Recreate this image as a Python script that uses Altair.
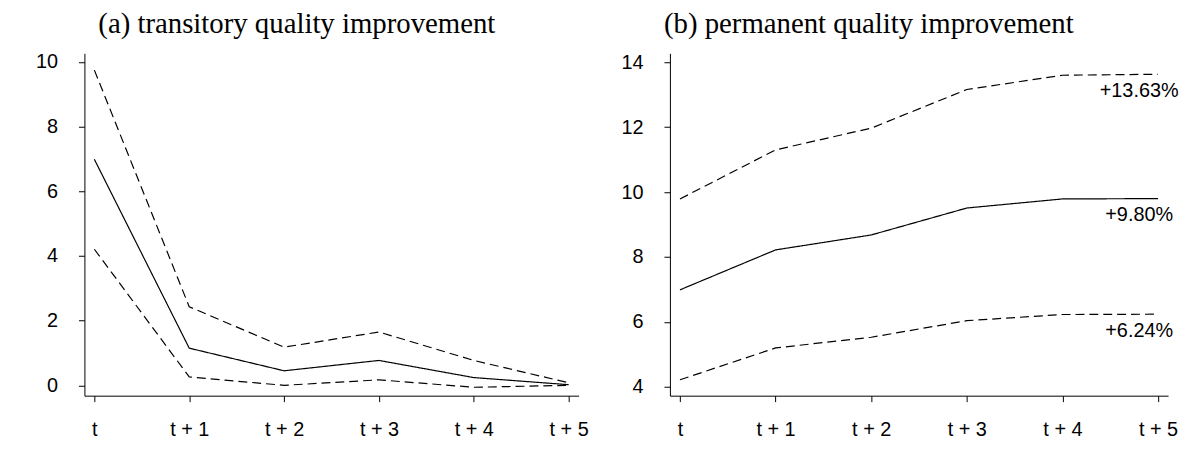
import json
import altair as alt
import pandas as pd

periods = ["t", "t + 1", "t + 2", "t + 3", "t + 4", "t + 5"]
steps = [0, 1, 2, 3, 4, 5]

a_mean = [6.99, 1.15, 0.45, 0.77, 0.24, 0.02]
a_upper = [9.75, 2.43, 1.18, 1.65, 0.77, 0.08]
a_lower = [4.21, 0.26, 0.00, 0.17, -0.06, 0.00]

b_mean = [6.99, 8.22, 8.68, 9.51, 9.79, 9.80]
b_upper = [9.79, 11.30, 11.97, 13.16, 13.60, 13.63]
b_lower = [4.22, 5.20, 5.53, 6.04, 6.23, 6.24]

b_labels = ["+13.63%", "+9.80%", "+6.24%"]
b_label_values = [13.63, 9.80, 6.24]

a_yticks = [0, 2, 4, 6, 8, 10]
b_yticks = [4, 6, 8, 10, 12, 14]

title_a = "(a) transitory quality improvement"
title_b = "(b) permanent quality improvement"


def long_df(mean, upper, lower):
    rows = []
    for name, vals in (("mean", mean), ("upper", upper), ("lower", lower)):
        for s, v in zip(steps, vals):
            rows.append({"step": s, "value": v, "series": name})
    return pd.DataFrame(rows)


label_expr = json.dumps(periods) + "[datum.value]"
FONT = "Liberation Sans"


def panel(df, ydomain, yticks, title, dx, width, yextent, text_df=None):
    x = alt.X(
        "step:Q",
        scale=alt.Scale(domain=[-0.105, 5.105], nice=False, zero=False),
        axis=alt.Axis(values=steps, labelExpr=label_expr, title=None, grid=False,
                      tickSize=6, labelPadding=18, domainColor="black", tickColor="black",
                      labelFont=FONT, labelFontSize=20, labelColor="black"),
    )
    y = alt.Y(
        "value:Q",
        scale=alt.Scale(domain=ydomain, nice=False, zero=False),
        axis=alt.Axis(values=yticks, title=None, grid=False, tickSize=6, labelPadding=21,
                      domainColor="black", tickColor="black", labelFont=FONT,
                      labelFontSize=20, labelColor="black", minExtent=yextent),
    )
    lines = alt.Chart(df).mark_line(color="black", strokeWidth=1.2, clip=True).encode(
        x=x, y=y, detail="series:N",
        strokeDash=alt.StrokeDash(
            "series:N",
            scale=alt.Scale(domain=["mean", "upper", "lower"], range=[[1, 0], [9, 5], [9, 5]]),
            legend=None,
        ),
    )
    layers = [lines]
    if text_df is not None:
        txt = alt.Chart(text_df).mark_text(
            font=FONT, fontSize=20, color="black", align="center", baseline="middle",
            dx=-19, dy=17,
        ).encode(x=alt.X("step:Q"), y=alt.Y("value:Q"), text="label:N")
        layers.append(txt)
    return alt.layer(*layers).properties(
        width=width, height=345,
        title=alt.TitleParams(title, font="Liberation Serif", fontSize=29, fontWeight="normal",
                              anchor="start", frame="group", dx=dx, offset=13, color="black"),
    )


df_a = long_df(a_mean, a_upper, a_lower)
df_b = long_df(b_mean, b_upper, b_lower)
text_df = pd.DataFrame({"step": [5] * len(b_labels), "value": b_label_values, "label": b_labels})

left = panel(df_a, [-0.32, 10.27], a_yticks, title_a, 14, 498, 77)
right = panel(df_b, [3.73, 14.275], b_yticks, title_b, -6, 502, 40, text_df)

chart = alt.hconcat(left, right, spacing=92, bounds="flush").properties(
    padding={"left": 0, "top": 0, "right": 0, "bottom": 0},
    background="white",
).configure_view(strokeOpacity=0, strokeWidth=0)

chart.save("out.html", embed_options={"renderer": "svg", "actions": False})
